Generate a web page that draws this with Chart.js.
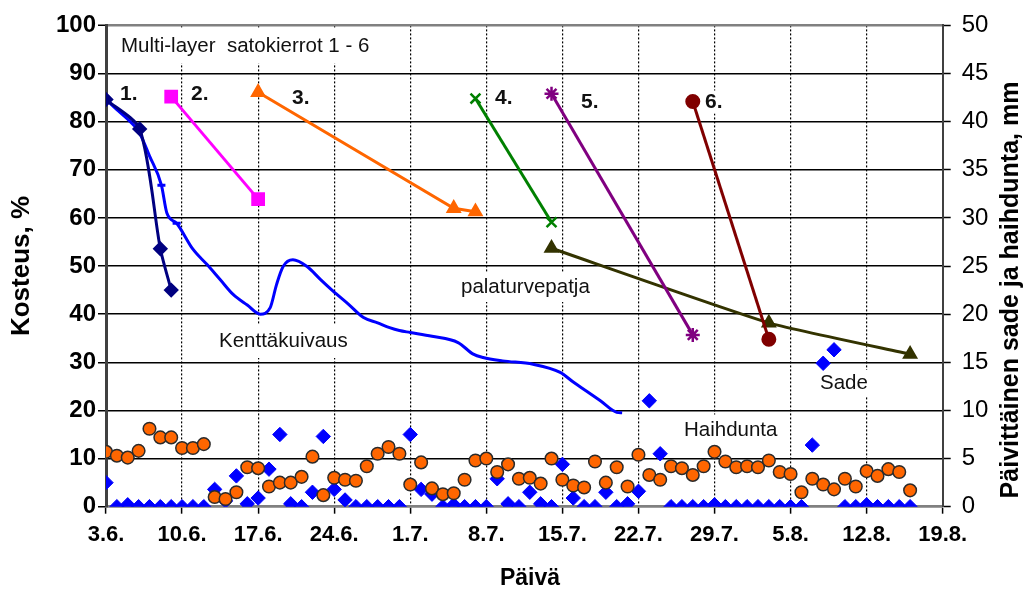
<!DOCTYPE html>
<html>
<head>
<meta charset="utf-8">
<script src="https://cdn.jsdelivr.net/npm/chart.js@4/dist/chart.umd.min.js"></script>
<style>
html,body{margin:0;padding:0;background:#fff;}
#c{display:block;}
</style>
</head>
<body>
<canvas id="c" width="1027" height="592"></canvas>
<script>
// ---- tick labels (x axis: days from 3.6., every 7 days) ----
const xTickLabels = ['3.6.','10.6.','17.6.','24.6.','1.7.','8.7.','15.7.','22.7.','29.7.','5.8.','12.8.','19.8.'];

// ---- moisture series (left axis, %) : day index from 3.6. ----
const kenttaDays   = [0,1,2,3,4,5.1,5.6,6.5,8,9.3,10.5,11.7,13,14.2,15.1,15.7,16.3,17.2,18.5,19.7,20.9,22.3,23.7,25,26.1,27,28,30,32.4,33.8,34.7,36.5,39.3,41.8,43,44.3,45.5,47,47.5];
const kenttaValues = [84.6,82.5,80.5,78.0,72.9,66.8,61.0,58.9,53.5,50.3,47.2,44.1,41.9,40.0,41.3,46.2,49.9,51.3,49.9,47.3,44.8,42.1,39.3,38.2,37.2,36.6,36.2,35.4,34.1,31.7,31.0,30.3,29.6,27.9,25.9,23.9,22.0,19.6,19.5];

const cycle1Days = [0,3.1,5,6];        const cycle1Values = [84.6,78.5,53.6,45.0];
const cycle2Days = [6,14];             const cycle2Values = [85.2,63.9];
const cycle3Days = [14,32,34];         const cycle3Values = [86.1,62.0,61.3];
const cycle4Days = [34,41];            const cycle4Values = [84.8,59.1];
const cycle5Days = [41,54];            const cycle5Values = [85.8,35.7];
const cycle6Days = [54,61];            const cycle6Values = [84.2,34.8];
const palaDays   = [41,61,74];         const palaValues   = [53.7,38.2,31.7];

// ---- daily rain (Sade) and evaporation (Haihdunta), mm, right axis, days 0..74 ----
const rainValues = [2.5,0,0.2,0,0,0,0,0,0,0,1.8,0.6,3.2,0.3,0.9,3.9,7.5,0.3,0,1.5,
                    7.3,1.8,0.7,0,0,0,0,0,7.5,1.8,1.3,0,0.2,0,0,0,2.9,0.3,0,1.5,
                    0.3,0,4.4,0.9,0,0,1.5,0,0.3,1.6,11.0,5.5,0,0,0,0,0.2,0,0,0,
                    0,0,0,0,0,6.4,14.9,16.3,0,0,0.2,0,0,0,0];
const evapValues = [5.7,5.3,5.1,5.8,8.1,7.2,7.2,6.1,6.1,6.5,1.0,0.8,1.5,4.1,4.0,2.1,2.5,2.5,3.1,5.2,
                    1.2,3.0,2.8,2.7,4.2,5.5,6.2,5.5,2.3,4.6,1.9,1.3,1.4,2.8,4.8,5.0,3.6,4.4,2.9,3.0,
                    2.4,5.0,2.8,2.2,2.0,4.7,2.5,4.1,2.1,5.4,3.3,2.8,4.2,4.0,3.3,4.2,5.7,4.7,4.1,4.2,
                    4.1,4.8,3.6,3.4,1.5,2.9,2.3,1.8,2.9,2.1,3.7,3.2,3.9,3.6,1.7];

const FONT = '"Liberation Sans", Arial, Helvetica, sans-serif';

function pts(xs, ys){ return xs.map((x,i)=>({x:x, y:ys[i]})); }
function daily(vals){ return vals.map((v,i)=>({x:i, y:v})); }

// text annotations (drawn by a small plugin, with white backgrounds like the original)
const notes = [
  {text:'Multi-layer  satokierrot 1 - 6', x:121, y:46,  size:20.5, bold:false, h:35, pad:8},
  {text:'1.', x:120, y:94,  size:21, bold:true, h:0, pad:0},
  {text:'2.', x:191, y:94,  size:21, bold:true, h:0, pad:0},
  {text:'3.', x:292, y:98.5,size:21, bold:true, h:0, pad:0},
  {text:'4.', x:495, y:98.5,size:21, bold:true, h:0, pad:0},
  {text:'5.', x:581, y:102, size:21, bold:true, h:0, pad:0},
  {text:'6.', x:705, y:102, size:21, bold:true, h:23, pad:3},
  {text:'Kenttäkuivaus', x:219, y:341.5, size:20.5, bold:false, h:33, pad:7},
  {text:'palaturvepatja', x:461, y:287, size:20.5, bold:false, h:30, pad:7},
  {text:'Sade', x:820, y:383, size:20.5, bold:false, h:26, pad:6},
  {text:'Haihdunta', x:684, y:430.5, size:20.5, bold:false, h:32, pad:7}
];

// axis titles
const titles = [
  {text:'Kosteus, %', x:22, y:266, rot:-Math.PI/2, size:26},
  {text:'Päivittäinen sade ja haihdunta, mm', x:1011, y:290, rot:-Math.PI/2, size:25},
  {text:'Päivä', x:530, y:579, rot:0, size:23}
];

const notesPlugin = {
  id: 'notes',
  beforeDatasetsDraw(chart) {
    const ctx = chart.ctx;
    ctx.save();
    ctx.textAlign = 'left';
    ctx.textBaseline = 'middle';
    for (const n of notes) {
      ctx.font = (n.bold ? 'bold ' : '') + n.size + 'px ' + FONT;
      const w = ctx.measureText(n.text).width;
      if (n.h > 0) {
        ctx.fillStyle = '#ffffff';
        ctx.fillRect(n.x - n.pad, n.y - n.h/2, w + 2*n.pad, n.h);
      }
      ctx.fillStyle = '#111111';
      ctx.fillText(n.text, n.x, n.y);
    }
    ctx.restore();
  },
  afterDraw(chart) {
    const ctx = chart.ctx;
    for (const t of titles) {
      ctx.save();
      ctx.translate(t.x, t.y);
      ctx.rotate(t.rot);
      ctx.font = 'bold ' + t.size + 'px ' + FONT;
      ctx.fillStyle = '#000';
      ctx.textAlign = 'center';
      ctx.textBaseline = 'middle';
      ctx.fillText(t.text, 0, 0);
      ctx.restore();
    }
  }
};

const lineDs = (data, color, style, radius, extra) => Object.assign({
  data: data, showLine: true, borderColor: color, backgroundColor: color,
  borderWidth: 3, pointStyle: style, pointRadius: radius, pointBorderWidth: 2,
  pointBackgroundColor: color, pointBorderColor: color, yAxisID: 'y', tension: 0
}, extra || {});

const kenttaRadius = kenttaDays.map(d => (d === 5.1 || d === 6.5) ? 4 : 0);

const chart = new Chart(document.getElementById('c'), {
  type: 'scatter',
  data: {
    datasets: [
      { label:'Haihdunta', data: daily(evapValues), yAxisID:'y2', showLine:false,
        pointStyle:'circle', pointRadius:6.3, pointBackgroundColor:'#FF6600',
        pointBorderColor:'#2b2b2b', pointBorderWidth:1.5, order:1 },
      { label:'Sade', data: daily(rainValues), yAxisID:'y2', showLine:false,
        pointStyle:'rectRot', pointRadius:7.2, pointBackgroundColor:'#0000FF',
        pointBorderColor:'#0000FF', pointBorderWidth:1, order:2 },
      lineDs(pts(cycle1Days, cycle1Values), '#000080', 'rectRot', 6.3, {order:3, tension:0.25}),
      lineDs(pts(kenttaDays, kenttaValues), '#0000FF', 'line', kenttaRadius, {order:4, cubicInterpolationMode:'monotone', pointBorderWidth:3}),
      lineDs(pts(cycle2Days, cycle2Values), '#FF00FF', 'rect', 8.3, {order:5}),
      lineDs(pts(cycle3Days, cycle3Values), '#FF6600', 'triangle', 7.2, {order:6}),
      lineDs(pts(cycle4Days, cycle4Values), '#008000', 'crossRot', 7, {order:7, pointBorderWidth:2.5}),
      lineDs(pts(cycle5Days, cycle5Values), '#800080', 'star', 7, {order:8, pointBorderWidth:2.5}),
      lineDs(pts(cycle6Days, cycle6Values), '#800000', 'circle', 6.5, {order:9}),
      lineDs(pts(palaDays, palaValues), '#333300', 'triangle', 7.2, {order:10, tension:0.15})
    ]
  },
  options: {
    responsive: false,
    animation: false,
    devicePixelRatio: 1,
    layout: { padding: { top: 22.7, left: 0, right: 0, bottom: 0 } },
    plugins: { legend: { display:false }, tooltip: { enabled:false } },
    scales: {
      x: {
        type: 'linear', position: 'bottom', min: 0, max: 77,
        afterFit: s => { s.height = 85.3; },
        afterBuildTicks: s => { s.ticks = xTickLabels.map((_, i) => ({ value: i*7 })); },
        ticks: { callback: (v) => xTickLabels[Math.round(v/7)], color:'#000', padding: 8,
                 font: { family: FONT, size: 22, weight: 'bold' }, maxRotation: 0, autoSkip: false },
        grid: { color:'#000', lineWidth: 1.2, tickLength: 7, tickColor:'#000', tickWidth: 1.5 },
        border: { color:'#808080', width: 2.5, dash:[2,2] }
      },
      y: {
        type: 'linear', position: 'left', min: 0, max: 100,
        afterFit: s => { s.width = 106; },
        ticks: { stepSize: 10, color:'#000', padding: 2,
                 font: { family: FONT, size: 24, weight: 'bold' } },
        grid: { color: c => (c.tick && (c.tick.value === 100 || c.tick.value === 0)) ? '#808080' : '#000',
                lineWidth: c => (c.tick && c.tick.value === 100) ? 2.5 : 1.5,
                tickLength: 8, tickColor:'#000', tickWidth: 1.5 },
        border: { color:'#404040', width: 3 }
      },
      y2: {
        type: 'linear', position: 'right', min: 0, max: 50,
        afterFit: s => { s.width = 1027 - 942.7; },
        ticks: { stepSize: 5, color:'#000', padding: 11,
                 font: { family: FONT, size: 24, weight: 'normal' } },
        grid: { drawOnChartArea:false, tickLength: 8, tickColor:'#000', tickWidth: 1.5 },
        border: { color:'#404040', width: 2 }
      }
    }
  },
  plugins: [notesPlugin]
});
</script>
</body>
</html>
